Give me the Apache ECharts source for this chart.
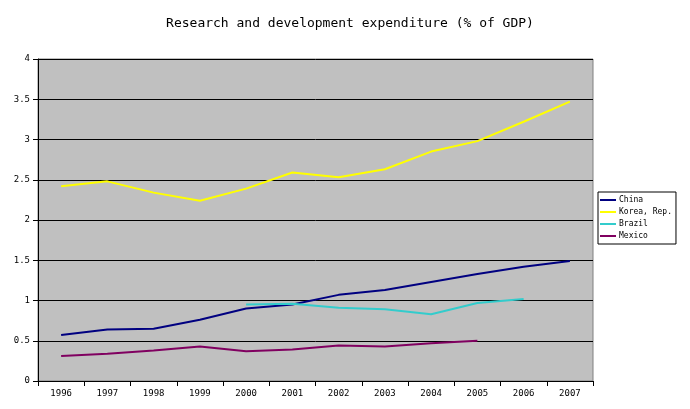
<!DOCTYPE html>
<html><head><meta charset="utf-8">
<script src="https://cdn.jsdelivr.net/npm/echarts@6/dist/echarts.min.js"></script>
<style>html,body{margin:0;background:#fff}#c{width:690px;height:409px}</style>
</head><body><div id="c"></div>
<script>
const years = ['1996','1997','1998','1999','2000','2001','2002','2003','2004','2005','2006','2007'];
const china = [0.57,0.64,0.65,0.76,0.90,0.95,1.07,1.13,1.23,1.33,1.42,1.49];
const korea = [2.42,2.48,2.34,2.24,2.39,2.59,2.53,2.63,2.85,2.98,3.22,3.47];
const brazil = [null,null,null,null,0.95,0.96,0.91,0.89,0.83,0.97,1.02,null];
const mexico = [0.31,0.34,0.38,0.43,0.37,0.39,0.44,0.43,0.47,0.50,null,null];

const font = 'DejaVu Sans Mono';
const mk = (name, data, color) => ({name, type:'line', data, symbol:'none', lineStyle:{color, width:2}, itemStyle:{color}});
const chart = echarts.init(document.getElementById('c'));
chart.setOption({
  animation:false,
  textStyle:{fontFamily:font},
  title:{text:'Research and development expenditure (% of GDP)', left:345, textAlign:'center', top:12,
    textStyle:{fontFamily:font, fontSize:13, fontWeight:'normal', color:'#000'}},
  grid:{left:38, right:97, top:59, bottom:28, backgroundColor:'#c0c0c0', show:true, borderColor:'#808080', borderWidth:1},
  legend:{orient:'vertical', left:598, top:192, itemWidth:16, itemHeight:2, itemGap:4,
    backgroundColor:'#fff', borderColor:'#000', borderWidth:1, padding:[4,4,4,2],
    textStyle:{fontFamily:font, fontSize:8, color:'#000', padding:[0,0,0,-2]}, icon:'rect',
    data:['China','Korea, Rep.','Brazil','Mexico']},
  xAxis:{type:'category', data:years, boundaryGap:true,
    axisLine:{lineStyle:{color:'#000'}}, axisTick:{show:true, alignWithLabel:false, lineStyle:{color:'#000'}},
    axisLabel:{fontFamily:font, fontSize:9, color:'#000'}},
  yAxis:{type:'value', min:0, max:4, interval:0.5,
    axisLine:{show:true, lineStyle:{color:'#000'}}, axisTick:{show:true, lineStyle:{color:'#000'}},
    axisLabel:{fontFamily:font, fontSize:9, color:'#000'},
    splitLine:{lineStyle:{color:'#000', width:1}}},
  series:[mk('China',china,'#000080'), mk('Korea, Rep.',korea,'#ffff00'), mk('Brazil',brazil,'#33cccc'), mk('Mexico',mexico,'#800060')]
});
</script></body></html>
